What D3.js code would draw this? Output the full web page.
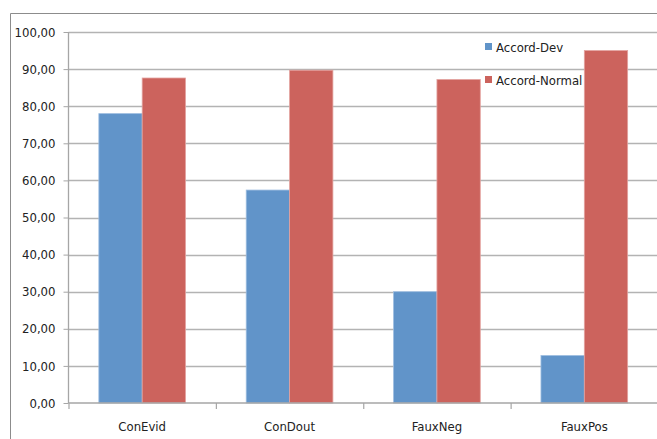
<!DOCTYPE html>
<html>
<head>
<meta charset="utf-8">
<script src="https://cdn.jsdelivr.net/npm/d3@7"></script>
<style>
  html, body { margin: 0; padding: 0; background: #fff; }
  svg { display: block; }
  text { font-family: "Liberation Sans Narrow", "DejaVu Sans Condensed", "Open Sans", sans-serif; fill: #222; }
</style>
</head>
<body>
<svg id="chart" width="657" height="439"></svg>
<script>
// Agreement percentages per decision type
const categories = ["ConEvid", "ConDout", "FauxNeg", "FauxPos"];
const seriesNames = ["Accord-Dev", "Accord-Normal"];
const accordDev = [78.0, 57.4, 30.0, 12.8];
const accordNormal = [87.6, 89.7, 87.2, 95.0];
const yTicks = [0, 10, 20, 30, 40, 50, 60, 70, 80, 90, 100];
const colors = ["#6194c9", "#cc635d"];

const svg = d3.select("#chart");
const plotLeft = 68.5, plotRight = 658, plotTop = 32, plotBottom = 403;

// Outer frame of the chart area
svg.append("path")
  .attr("d", `M10.5,445 V13.5 H665`)
  .attr("fill", "none").attr("stroke", "#8c8c8c").attr("stroke-width", 1);

const x = d3.scaleBand().domain(categories).range([plotLeft, plotRight]).paddingInner(0).paddingOuter(0);
const xs = d3.scaleBand().domain(seriesNames).range([0, x.bandwidth()]).paddingInner(0).paddingOuter(0.7);
const y = d3.scaleLinear().domain([0, 100]).range([plotBottom, plotTop]);

// Gridlines
svg.append("g").selectAll("line").data(yTicks.slice(1)).join("line")
  .attr("x1", plotLeft).attr("x2", 660)
  .attr("y1", d => Math.round(y(d)) + 0.5).attr("y2", d => Math.round(y(d)) + 0.5)
  .attr("stroke", "#b3b3b3").attr("stroke-width", 1.3);

// Y axis
const yAxis = d3.axisLeft(y).tickValues(yTicks).tickSize(5).tickPadding(8)
  .tickFormat(d => d3.format(".2f")(d).replace(".", ","));
const gy = svg.append("g").attr("transform", `translate(${plotLeft},0)`).call(yAxis);
gy.select(".domain").attr("stroke", "#a6a6a6").attr("stroke-width", 1.3).attr("d", `M0,${plotTop}V${plotBottom}`);
gy.selectAll(".tick line").attr("stroke", "#a6a6a6");
gy.selectAll(".tick text").attr("font-size", 13).style("fill", "#222");

// Bars
const data = categories.map((c, i) => ({ c, vals: [accordDev[i], accordNormal[i]] }));
const groups = svg.append("g").selectAll("g").data(data).join("g")
  .attr("transform", d => `translate(${x(d.c)},0)`);
groups.selectAll("rect").data(d => d.vals.map((v, j) => ({ v, s: seriesNames[j], j }))).join("rect")
  .attr("x", d => xs(d.s))
  .attr("width", xs.bandwidth())
  .attr("y", d => y(d.v))
  .attr("height", d => y(0) - y(d.v))
  .attr("fill", d => colors[d.j])
  .attr("stroke", d => d.j === 0 ? "#9dbde0" : "#e3a3a0")
  .attr("stroke-width", 0.8);

// X axis
const xAxis = d3.axisBottom(x).tickSize(0).tickPadding(19);
const gx = svg.append("g").attr("transform", `translate(0,${plotBottom})`).call(xAxis);
gx.select(".domain").attr("stroke", "#a6a6a6").attr("stroke-width", 1.5).attr("d", `M${plotLeft},0H660`);
gx.selectAll(".tick text").attr("font-size", 13).style("fill", "#222");
// Category separator ticks
svg.append("g").selectAll("line").data(categories).join("line")
  .attr("x1", d => x(d) + 0.5).attr("x2", d => x(d) + 0.5)
  .attr("y1", plotBottom).attr("y2", plotBottom + 6)
  .attr("stroke", "#a6a6a6").attr("stroke-width", 1.2);

// Legend
const legend = svg.append("g").attr("transform", "translate(485,42)");
seriesNames.forEach((s, i) => {
  const g = legend.append("g").attr("transform", `translate(0,${i * 33})`);
  g.append("rect").attr("width", 7).attr("height", 7).attr("y", 1).attr("fill", colors[i]);
  g.append("text").attr("x", 11).attr("y", 10).attr("font-size", 13).text(s);
});
</script>
</body>
</html>
